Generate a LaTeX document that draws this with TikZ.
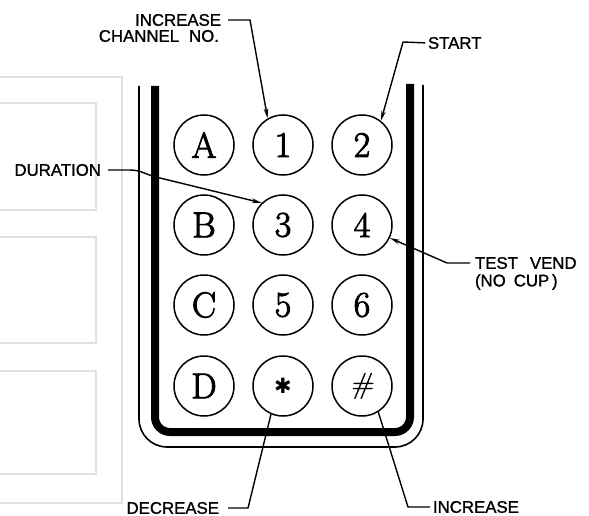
\documentclass[tikz,border=0pt]{standalone}
\usepackage{fontspec}
\newfontfamily\labelfont[FakeBold=1.2]{Liberation Sans}
\newfontfamily\keyfont[FakeBold=2.5]{Latin Modern Roman}
\newfontfamily\hashfont[FakeSlant=0.15,FakeBold=1]{Latin Modern Roman}
\newfontfamily\symfont{DejaVu Sans}
\usetikzlibrary{arrows.meta}
\begin{document}
\begin{tikzpicture}[x=1pt,y=-1pt,
  key/.style={circle, draw, line width=1.5pt, minimum size=60pt, inner sep=0pt,
    font=\keyfont\fontsize{36}{36}\selectfont},
  lab/.style={inner sep=0pt, outer sep=0pt, font=\labelfont\fontsize{16.8}{18}\selectfont},
  leader/.style={line width=1.4pt, line join=round},
  tip/.style={-{Stealth[length=10pt,width=4.5pt]}},
  graybox/.style={draw=black!12, line width=2pt},
  thickframe/.style={line width=8pt, rounded corners=15pt},
  thinframe/.style={line width=1.6pt, rounded corners=28pt}]
\useasboundingbox (0,0) rectangle (589,516);
% faint background boxes
\draw[graybox] (-5,77) -- (122,77) -- (122,503) -- (-5,503);
\draw[graybox] (-5,103) -- (96,103) -- (96,210) -- (-5,210);
\draw[graybox] (-5,237) -- (96,237) -- (96,343) -- (-5,343);
\draw[graybox] (-5,371) -- (96,371) -- (96,474) -- (-5,474);
% frame
\draw[thickframe] (155,86) -- (155,432) -- (410,432) -- (410,84);
\draw[thinframe] (139,86) -- (139,447) -- (423,447) -- (423,85);
% keys
\node[key] (kA) at (204,145) {A};
\node[key] (k1) at (283,145) {1};
\node[key] (k2) at (362,145) {2};
\node[key] (kB) at (204,225) {B};
\node[key] (k3) at (283,225) {3};
\node[key] (k4) at (362,225) {4};
\node[key] (kC) at (204,305) {C};
\node[key] (k5) at (283,305) {5};
\node[key] (k6) at (362,305) {6};
\node[key] (kD) at (204,386) {D};
\node[key] (kst) at (283,386) {\symfont\fontsize{21}{21}\selectfont ✱};
\node[key] (khash) at (362,386) {\hashfont\fontsize{29}{29}\selectfont\#};
% labels
\node[lab, anchor=east] (inc1) at (221,20) {INCREASE};
\node[lab, anchor=east] (inc2) at (219,36) {CHANNEL\hspace{10pt}NO.};
\node[lab, anchor=west] (start) at (428,43) {START};
\node[lab, anchor=east] (dur) at (101,170) {DURATION};
\node[lab, anchor=west] (tv1) at (475,263) {TEST\hspace{12pt}VEND};
\node[lab, anchor=west] (tv2) at (475,282) {(NO\hspace{8pt}CUP\,)};
\node[lab, anchor=east] (dec) at (219,508) {DECREASE};
\node[lab, anchor=west] (inc3) at (433,507) {INCREASE};
% leaders
\draw[leader, tip, shorten <=7pt] (inc1.east) -- (250,20) -- (k1.120);
\draw[leader, tip, shorten <=3pt] (start.west) -- (403,42) -- (k2.52);
\draw[leader, tip, shorten <=7pt] (dur.east) -- (130,170) .. controls (142,170) and (148,176) .. (160,178) -- (k3.134);
\draw[leader, tip, shorten <=5pt] (tv1.west) -- (447,263) -- (k4.-25);
\draw[leader, shorten <=9pt] (dec.east) -- (248,508) -- (kst.247);
\draw[leader, shorten <=3pt] (inc3.west) -- (408,507) -- (khash.-58);
\end{tikzpicture}
\end{document}
